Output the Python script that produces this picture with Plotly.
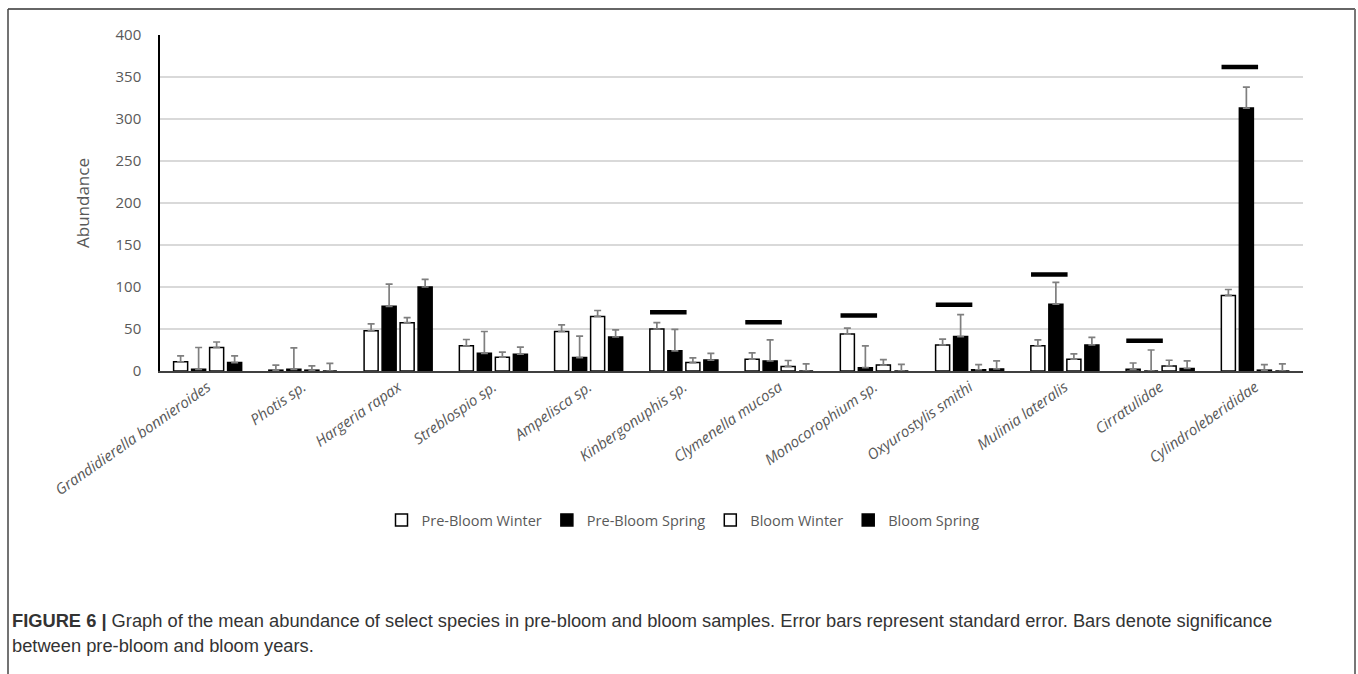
import plotly.graph_objects as go

# Species (x categories)
categories = [
    "Grandidierella bonnieroides", "Photis sp.", "Hargeria rapax", "Streblospio sp.",
    "Ampelisca sp.", "Kinbergonuphis sp.", "Clymenella mucosa", "Monocorophium sp.",
    "Oxyurostylis smithi", "Mulinia lateralis", "Cirratulidae", "Cylindroleberididae",
]

# Mean abundance per sampling period
pre_bloom_winter = [11, 1, 48, 30, 47, 50, 14, 44, 31, 30, 2, 90]
pre_bloom_spring = [2, 2, 77, 21, 16, 24, 12, 4, 41, 79.5, 0, 313]
bloom_winter = [28, 1, 57.5, 16.5, 65, 10, 5.5, 7, 1.5, 14, 6, 1]
bloom_spring = [10, 0, 100, 20, 40.5, 13, 0, 0, 2.5, 31, 3, 0]

# Standard errors (upper bars only)
pre_bloom_winter_se = [7, 6, 8, 7.5, 8, 7.5, 7.5, 7, 7, 7, 7.5, 7]
pre_bloom_spring_se = [26, 25.5, 26.5, 26, 25.6, 25.6, 25, 26, 26, 26, 25, 25]
bloom_winter_se = [6.5, 5, 6, 6, 7, 5.6, 7, 6.5, 6, 6.5, 6.8, 6.5]
bloom_spring_se = [8, 9, 9, 8.5, 8.5, 8, 8.5, 8, 9.5, 9, 9, 8.5]

# Height of the significance bar drawn over the pre-bloom pair (None = not significant)
significance_level = [None, None, None, None, None, 70, 58, 66, 79, 115, 36, 362]

y_ticks = [0, 50, 100, 150, 200, 250, 300, 350, 400]

series = [
    ("Pre-Bloom Winter", pre_bloom_winter, pre_bloom_winter_se, "white"),
    ("Pre-Bloom Spring", pre_bloom_spring, pre_bloom_spring_se, "black"),
    ("Bloom Winter", bloom_winter, bloom_winter_se, "white"),
    ("Bloom Spring", bloom_spring, bloom_spring_se, "black"),
]

GRAY_TEXT = "#595959"
BARGAP = 0.244
BARGROUPGAP = 0.22

fig = go.Figure()
for name, vals, se, fill in series:
    fig.add_trace(go.Bar(
        name=name,
        x=categories,
        y=vals,
        marker=dict(color=fill, line=dict(color="black", width=1.5)),
        error_y=dict(
            type="data", symmetric=False, array=se, arrayminus=[0] * len(se),
            color="#7f7f7f", thickness=1.7, width=3.5,
        ),
    ))

# Significance bars spanning the two pre-bloom bars of each group
slot = (1 - BARGAP) / 4
shapes = []
for i, lvl in enumerate(significance_level):
    if lvl is None:
        continue
    shapes.append(dict(
        type="line", xref="x", yref="y",
        x0=i - 2 * slot + slot * 0.12, x1=i + slot * 0.15,
        y0=lvl, y1=lvl,
        line=dict(color="black", width=4.5),
    ))

# Outer frame (top, left, right)
px_w, l_m, r_m = 1358, 160, 55
plot_w = px_w - l_m - r_m
top_m, bot_px = 35, 371
plot_h = bot_px - top_m


def px_x(p):
    return (p - l_m) / plot_w


def px_y(p):
    return (bot_px - p) / plot_h


shapes += [
    dict(type="line", xref="paper", yref="paper", x0=px_x(8), x1=px_x(1355),
         y0=px_y(9), y1=px_y(9), line=dict(color="#333333", width=1.5)),
    dict(type="line", xref="paper", yref="paper", x0=px_x(8), x1=px_x(8),
         y0=px_y(9), y1=px_y(700), line=dict(color="#444444", width=1.5)),
    dict(type="line", xref="paper", yref="paper", x0=px_x(1355), x1=px_x(1355),
         y0=px_y(9), y1=px_y(700), line=dict(color="#777777", width=2)),
]

caption_font = dict(family="Liberation Sans, Arial, sans-serif", size=18.3, color="#333333")
annotations = [
    dict(
        xref="paper", yref="paper", x=px_x(10), y=px_y(620),
        xanchor="left", yanchor="middle", showarrow=False, align="left",
        text="<b>FIGURE 6 |</b> Graph of the mean abundance of select species in pre-bloom and bloom samples. "
             "Error bars represent standard error. Bars denote significance",
        font=caption_font,
    ),
    dict(
        xref="paper", yref="paper", x=px_x(10), y=px_y(645),
        xanchor="left", yanchor="middle", showarrow=False, align="left",
        text="between pre-bloom and bloom years.",
        font=caption_font,
    ),
]

fig.update_layout(
    width=1358, height=674,
    margin=dict(l=l_m, r=r_m, t=top_m, b=674 - bot_px, autoexpand=False),
    paper_bgcolor="white", plot_bgcolor="white",
    barmode="group", bargap=BARGAP, bargroupgap=BARGROUPGAP,
    font=dict(family="Open Sans, sans-serif", color=GRAY_TEXT),
    xaxis=dict(
        tickangle=-35, tickfont=dict(size=15, color=GRAY_TEXT, style="italic"),
        showline=True, linecolor="#404040", linewidth=1.5,
        ticks="", showgrid=False,
    ),
    yaxis=dict(
        range=[0, 400], tickvals=y_ticks, tickfont=dict(size=15, color=GRAY_TEXT),
        showgrid=True, gridcolor="#d9d9d9", gridwidth=1.5,
        showline=True, linecolor="black", linewidth=1.5, zeroline=False,
        title=dict(text="Abundance", font=dict(size=17, color=GRAY_TEXT), standoff=22),
        ticklabelstandoff=14,
    ),
    legend=dict(
        orientation="h", x=px_x(683), xanchor="center", y=px_y(520), yanchor="middle",
        font=dict(size=14.5, color=GRAY_TEXT), itemwidth=30, traceorder="normal",
    ),
    shapes=shapes,
    annotations=annotations,
)

fig.write_html("out.html")
